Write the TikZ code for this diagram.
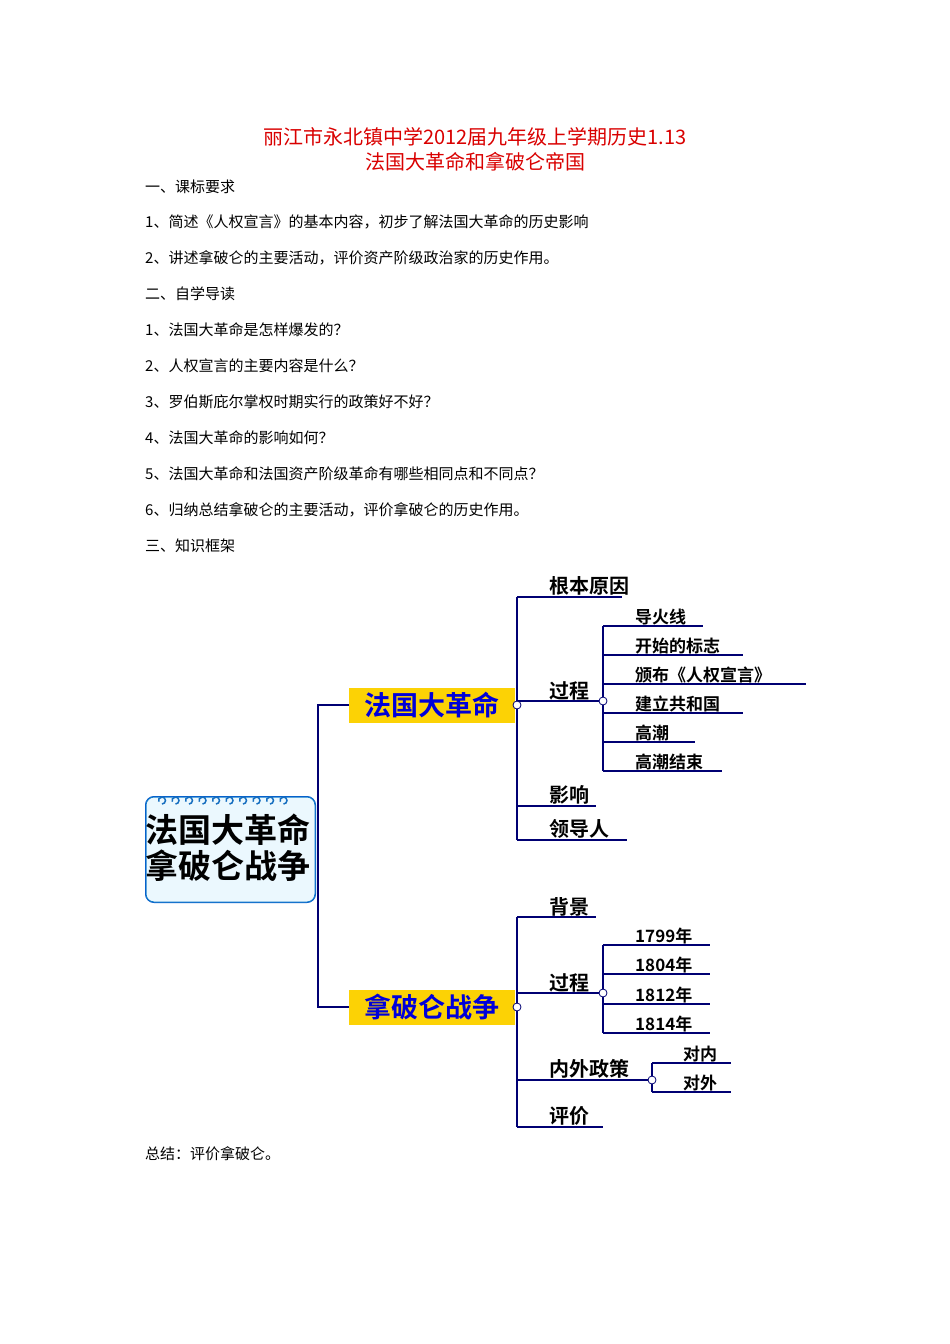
\documentclass[tikz,border=0pt]{standalone}
\usepackage{fontspec}
\newfontfamily\cjk{Noto Sans CJK SC}
\newfontfamily\cjkb{Noto Sans CJK SC Bold}
\begin{document}
\begin{tikzpicture}[x=1pt,y=-1pt,
 body/.style={anchor=west,inner sep=0,font=\cjk\fontsize{15}{15}\selectfont},
 lab/.style={anchor=south west,inner sep=1pt,font=\cjkb\fontsize{20}{20}\selectfont},
 sub/.style={anchor=south west,inner sep=1pt,font=\cjkb\fontsize{17}{17}\selectfont},
 main/.style={draw=none,fill=yellow!70!orange,minimum width=166pt,minimum height=35pt,inner sep=0,font=\cjkb\fontsize{27}{27}\selectfont,text=blue!85!black},
 thick1/.style={draw=blue!45!black,line width=2.6pt},
 thin1/.style={draw=blue!45!black,line width=1.5pt},
 dot/.style={circle,draw=blue!45!black,fill=white,inner sep=0,minimum size=8pt,line width=0.8pt}]
\useasboundingbox (0,0) rectangle (950,1344);
\node[font=\cjk\fontsize{20}{20}\selectfont,text=red!85!black] (t1) at (475,137) {丽江市永北镇中学2012届九年级上学期历史1.13};
\node[font=\cjk\fontsize{20}{20}\selectfont,text=red!85!black] (t2) at (475,162) {法国大革命和拿破仑帝国};
\node[body] (l1) at (145,187) {一、课标要求};
\node[body] (l2) at (145,222) {1、简述《人权宣言》的基本内容，初步了解法国大革命的历史影响};
\node[body] (l3) at (145,258) {2、讲述拿破仑的主要活动，评价资产阶级政治家的历史作用。};
\node[body] (l4) at (145,294) {二、自学导读};
\node[body] (l5) at (145,330) {1、法国大革命是怎样爆发的？};
\node[body] (l6) at (145,366) {2、人权宣言的主要内容是什么？};
\node[body] (l7) at (145,402) {3、罗伯斯庇尔掌权时期实行的政策好不好？};
\node[body] (l8) at (145,438) {4、法国大革命的影响如何？};
\node[body] (l9) at (145,474) {5、法国大革命和法国资产阶级革命有哪些相同点和不同点？};
\node[body] (l10) at (145,510) {6、归纳总结拿破仑的主要活动，评价拿破仑的历史作用。};
\node[body] (l11) at (145,546) {三、知识框架};
\node[body] (l12) at (145,1154) {总结：评价拿破仑。};
% central box
\draw[draw=blue!60!cyan!80!black,line width=2pt,fill=white,rounded corners=8pt] (146,797) rectangle (315,902);
\draw[draw=cyan!60!blue,line width=1pt,fill=cyan!8,rounded corners=8pt] (146,797) rectangle (315,902);
\foreach \i in {0,...,9} \draw[cyan!50!blue,line width=1.5pt] (162+\i*13.5,804) arc[start angle=-90,end angle=200,radius=3.5pt];
\node[inner sep=0,font=\cjkb\fontsize{33}{36}\selectfont,align=center] (c) at (228,848) {法国大革命\\拿破仑战争};
% main
\node[main] (m1) at (432,705) {法国大革命};
\node[main] (m2) at (432,1007) {拿破仑战争};
\draw[thick1] (m1.west) -- (318,705) -- (318,1007) -- (m2.west);
% branch 1
\coordinate (d1) at (517,705);
\draw[thick1] (517,597) -- (517,840);
\draw[thick1] (517,597) -- (622,597); \node[lab] (a1) at (548,597) {根本原因};
\draw[thick1] (517,701) -- (603,701); \node[lab] (a2) at (548,701) {过程};
\draw[thick1] (517,806) -- (596,806); \node[lab] (a3) at (548,806) {影响};
\draw[thick1] (517,840) -- (627,840); \node[lab] (a4) at (548,840) {领导人};
\draw[thin1] (603,626) -- (603,771);
\foreach \y/\e/\t in {626/703/导火线,655/743/开始的标志,684/806/颁布《人权宣言》,713/743/建立共和国,742/695/高潮,771/722/高潮结束}{
 \draw[thin1] (603,\y) -- (\e,\y); \node[sub] at (634,\y) {\t};}
\node[dot] (o1) at (d1) {};
\node[dot] (o2) at (603,701) {};
% branch 2
\draw[thick1] (517,917) -- (517,1127);
\draw[thick1] (517,917) -- (596,917); \node[lab] (b1) at (548,917) {背景};
\draw[thick1] (517,993) -- (603,993); \node[lab] (b2) at (548,993) {过程};
\draw[thick1] (517,1080) -- (652,1080); \node[lab] (b3) at (548,1080) {内外政策};
\draw[thick1] (517,1127) -- (603,1127); \node[lab] (b4) at (548,1127) {评价};
\draw[thin1] (603,945) -- (603,1033);
\foreach \y/\t in {945/1799年,974/1804年,1004/1812年,1033/1814年}{
 \draw[thin1] (603,\y) -- (710,\y); \node[sub] at (634,\y) {\t};}
\draw[thin1] (652,1063) -- (652,1092);
\draw[thin1] (652,1063) -- (731,1063); \node[sub] at (682,1063) {对内};
\draw[thin1] (652,1092) -- (731,1092); \node[sub] at (682,1092) {对外};
\node[dot] (o3) at (517,1007) {};
\node[dot] (o4) at (603,993) {};
\node[dot] (o5) at (652,1080) {};
\end{tikzpicture}
\end{document}
